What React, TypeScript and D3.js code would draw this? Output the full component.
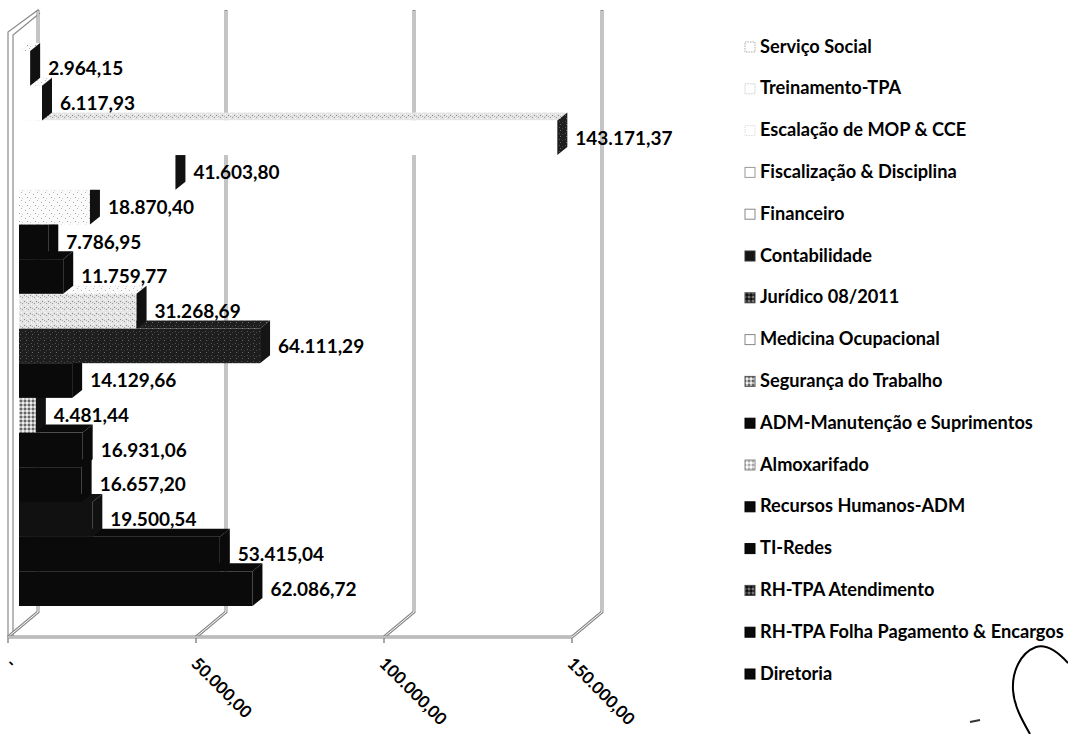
import * as d3 from "d3";

// departamentos (ordem de cima para baixo, igual à legenda)
const categories = [
  "Serviço Social",
  "Treinamento-TPA",
  "Escalação de MOP & CCE",
  "Fiscalização & Disciplina",
  "Financeiro",
  "Contabilidade",
  "Jurídico 08/2011",
  "Medicina Ocupacional",
  "Segurança do Trabalho",
  "ADM-Manutenção e Suprimentos",
  "Almoxarifado",
  "Recursos Humanos-ADM",
  "TI-Redes",
  "RH-TPA Atendimento",
  "RH-TPA Folha Pagamento & Encargos",
  "Diretoria",
];

const values = [
  2964.15, 6117.93, 143171.37, 41603.8, 18870.4, 7786.95, 11759.77, 31268.69,
  64111.29, 14129.66, 4481.44, 16931.06, 16657.2, 19500.54, 53415.04, 62086.72,
];

const ticks = [0, 50000, 100000, 150000];

// preenchimentos: frente, lateral, topo, legenda
const frontFill = [
  "#fff", "#fff", "#fff", "#fff", "url(#speckLight)", "#0a0a0a", "#0a0a0a",
  "url(#speckMid)", "url(#speckDark)", "#0a0a0a", "url(#checkMid)", "#0a0a0a",
  "#0a0a0a", "#111", "#0a0a0a", "#0a0a0a",
];
const sideFill = [
  "#111", "#111", "url(#speckDark)", "#111", "#111", "#0a0a0a", "#0a0a0a",
  "#111", "#151515", "#0a0a0a", "#111", "#0a0a0a", "#0a0a0a", "#111",
  "#0a0a0a", "#0a0a0a",
];
const topFill = [
  "url(#speckLight)", "url(#speckLight)", "url(#speckMid)", "url(#speckLight)",
  "url(#speckLight)", "#0a0a0a", "#0a0a0a", "url(#speckLight)",
  "url(#speckDark)", "#0a0a0a", "url(#speckLight)", "#0a0a0a", "#0a0a0a",
  "#111", "#0a0a0a", "#0a0a0a",
];
const legendFill = [
  "#fff", "#fff", "#fff", "#fff", "#fff", "#151515", "url(#checkDark)", "#fff",
  "url(#checkMid)", "#0a0a0a", "url(#checkLight)", "#0a0a0a", "#0a0a0a",
  "url(#checkDark)", "#0a0a0a", "#0a0a0a",
];
const legendStroke = [
  "#aaa", "#ccc", "#ddd", "#999", "#888", "#333", "#444", "#888", "#555",
  "#000", "#888", "#000", "#000", "#444", "#000", "#000",
];

const ptBR = d3.formatLocale({
  decimal: ",",
  thousands: ".",
  grouping: [3],
  currency: ["R$", ""],
});
const fmt = ptBR.format(",.2f");

const FONT = "Lato, 'Open Sans', 'DejaVu Sans', sans-serif";

export default function App() {
  const W = 1068;
  const H = 734;

  // eixo frontal (chão) e parede de fundo
  const floorY = 637;
  const DX = 30;
  const DY = 25;
  const topY = 10;
  const xFront = d3.scaleLinear().domain([0, 150000]).range([8, 572]);
  const xBack = (v: number) => xFront(v) + DX;

  // barras
  const xBar = d3.scaleLinear().domain([0, 150000]).range([19, 583]);
  const y = d3.scaleBand().domain(categories).range([51, 606]).padding(0);
  const bdx = 10;
  const bdy = 8;

  const gridColor = "#8a8a8a";

  const order = d3.range(categories.length).reverse();

  const legendX = 745;
  const legendY0 = 47;
  const legendStep = (674 - 47) / 15;

  return (
    <svg
      width={W}
      height={H}
      style={{ position: "absolute", left: 0, top: 0, background: "#fff" }}
      fontFamily={FONT}
    >
      <defs>
        <pattern id="speckLight" width="8" height="8" patternUnits="userSpaceOnUse">
          <rect width="8" height="8" fill="#fafafa" />
          <rect x="1" y="2" width="1" height="1" fill="#aaa" />
          <rect x="5" y="0" width="1" height="1" fill="#bbb" />
          <rect x="3" y="5" width="1" height="1" fill="#999" />
          <rect x="6" y="6" width="1" height="1" fill="#ccc" />
        </pattern>
        <pattern id="speckMid" width="6" height="6" patternUnits="userSpaceOnUse">
          <rect width="6" height="6" fill="#e4e4e4" />
          <rect x="0" y="1" width="1" height="1" fill="#888" />
          <rect x="3" y="0" width="1" height="1" fill="#fff" />
          <rect x="4" y="3" width="1" height="1" fill="#999" />
          <rect x="1" y="4" width="1" height="1" fill="#fff" />
          <rect x="2" y="2" width="1" height="1" fill="#aaa" />
        </pattern>
        <pattern id="speckDark" width="6" height="6" patternUnits="userSpaceOnUse">
          <rect width="6" height="6" fill="#1e1e1e" />
          <rect x="1" y="1" width="1" height="1" fill="#555" />
          <rect x="4" y="2" width="1" height="1" fill="#444" />
          <rect x="2" y="4" width="1" height="1" fill="#666" />
        </pattern>
        <pattern id="checkMid" width="4" height="4" patternUnits="userSpaceOnUse">
          <rect width="4" height="4" fill="#bbb" />
          <rect x="0" y="0" width="2" height="2" fill="#666" />
          <rect x="2" y="2" width="2" height="2" fill="#eee" />
        </pattern>
        <pattern id="checkLight" width="4" height="4" patternUnits="userSpaceOnUse">
          <rect width="4" height="4" fill="#ddd" />
          <rect x="0" y="0" width="2" height="2" fill="#aaa" />
          <rect x="2" y="2" width="2" height="2" fill="#fff" />
        </pattern>
        <pattern id="checkDark" width="4" height="4" patternUnits="userSpaceOnUse">
          <rect width="4" height="4" fill="#333" />
          <rect x="0" y="0" width="2" height="2" fill="#777" />
          <rect x="2" y="2" width="2" height="2" fill="#111" />
        </pattern>
      </defs>

      {/* parede lateral esquerda */}
      <g fill="none" stroke={gridColor} strokeWidth={1.2}>
        <path
          d={`M${xFront(0)},${floorY} L${xFront(0)},${topY + DY - 3} L${xBack(0)},${topY} L${xBack(0)},${floorY - DY}`}
        />
        <path
          d={`M${xFront(0) + 5},${floorY} L${xFront(0) + 5},${topY + DY} L${xBack(0) + 2},${topY + 3}`}
        />
      </g>

      {/* linhas de grade da parede de fundo e do chão */}
      {ticks.map((t) => (
        <g key={t} fill="none">
          <path
            d={`M${xBack(t)},${topY} L${xBack(t)},${floorY - DY} L${xFront(t)},${floorY}`}
            stroke={gridColor}
            strokeWidth={3}
          />
          <path
            d={`M${xBack(t)},${topY + 1} L${xBack(t)},${floorY - DY} L${xFront(t)},${floorY}`}
            stroke="#fff"
            strokeWidth={1}
          />
          <line
            x1={xFront(t)}
            x2={xFront(t)}
            y1={floorY}
            y2={floorY + 6}
            stroke={gridColor}
            strokeWidth={1.5}
          />
        </g>
      ))}
      <line
        x1={xFront(0)}
        x2={xFront(150000)}
        y1={floorY}
        y2={floorY}
        stroke={gridColor}
        strokeWidth={3}
      />
      <line
        x1={xFront(0)}
        x2={xFront(150000)}
        y1={floorY}
        y2={floorY}
        stroke="#eee"
        strokeWidth={1}
      />

      {/* barras 3D, de baixo para cima */}
      {order.map((i) => {
        const c = categories[i];
        const x0 = xBar(0);
        const x1 = xBar(values[i]);
        const yt = y(c) as number;
        const yb = yt + y.bandwidth();
        return (
          <g key={c}>
            <polygon
              points={`${x0},${yt} ${x1},${yt} ${x1 + bdx},${yt - bdy} ${x0 + bdx},${yt - bdy}`}
              fill={topFill[i]}
            />
            <rect
              x={x0}
              y={yt}
              width={x1 - x0}
              height={yb - yt}
              fill={frontFill[i]}
            />
            <polygon
              points={`${x1},${yt} ${x1 + bdx},${yt - bdy} ${x1 + bdx},${yb - bdy} ${x1},${yb}`}
              fill={sideFill[i]}
            />
          </g>
        );
      })}

      {/* rótulos de valores */}
      {categories.map((c, i) => (
        <text
          key={c}
          x={xBar(values[i]) + bdx + 8}
          y={(y(c) as number) + y.bandwidth() / 2 + 2}
          dominantBaseline="middle"
          fontSize={19}
          fontWeight={700}
          fill="#000"
        >
          {fmt(values[i])}
        </text>
      ))}

      {/* rótulos do eixo */}
      {ticks.map((t) => (
        <text
          key={t}
          transform={`translate(${xFront(t) + (t === 0 ? 6 : 3)},${floorY + 19}) rotate(45)`}
          dy="0.72em"
          fontSize={17}
          fontWeight={700}
          fill="#000"
        >
          {t === 0 ? "-" : fmt(t)}
        </text>
      ))}

      {/* legenda */}
      {categories.map((c, i) => {
        const cy = legendY0 + i * legendStep;
        return (
          <g key={c}>
            <rect
              x={legendX}
              y={cy - 5}
              width={10}
              height={10}
              fill={legendFill[i]}
              stroke={legendStroke[i]}
              strokeWidth={1}
              strokeDasharray={i < 3 ? "1.5,1" : undefined}
            />
            <text
              x={legendX + 15}
              y={cy + 1}
              dominantBaseline="middle"
              fontSize={18.2}
              fontWeight={700}
              fill="#000"
            >
              {c}
            </text>
          </g>
        );
      })}

      {/* traço à mão no canto */}
      <path
        d="M1068,663 C1058,652 1046,644 1036,647 C1020,653 1012,672 1013,690 C1014,706 1022,720 1030,734"
        fill="none"
        stroke="#000"
        strokeWidth={2}
      />
      <path d="M970,722 L980,720" stroke="#333" strokeWidth={2} />
    </svg>
  );
}
